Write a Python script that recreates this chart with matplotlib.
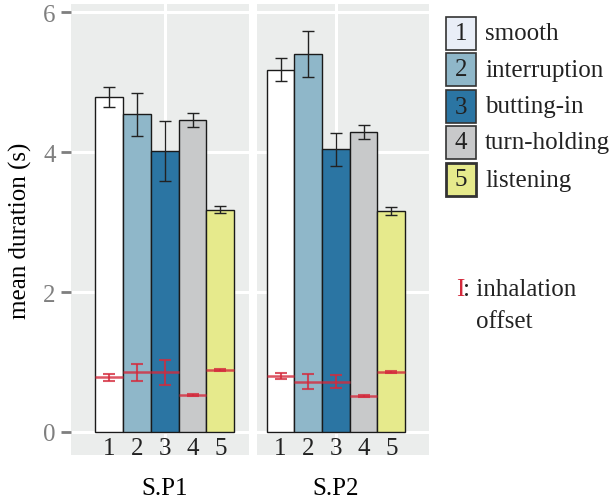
import numpy as np
import matplotlib
matplotlib.use("Agg")
import matplotlib.pyplot as plt
from matplotlib.patches import Rectangle
import matplotlib.transforms as mtransforms

# data
categories = ["1", "2", "3", "4", "5"]
turn_types = ["smooth", "interruption", "butting-in", "turn-holding", "listening"]
speakers = ["S.P1", "S.P2"]

sp1_mean = [4.79, 4.54, 4.02, 4.46, 3.18]
sp1_err = [0.15, 0.31, 0.43, 0.105, 0.045]
sp2_mean = [5.18, 5.40, 4.04, 4.29, 3.16]
sp2_err = [0.165, 0.33, 0.24, 0.095, 0.055]

sp1_inhal = [0.78, 0.85, 0.85, 0.53, 0.89]
sp1_inhal_err = [0.045, 0.12, 0.175, 0.015, 0.015]
sp2_inhal = [0.80, 0.72, 0.72, 0.515, 0.86]
sp2_inhal_err = [0.045, 0.11, 0.09, 0.015, 0.015]

bar_colors = ["#FFFFFF", "#8FB7C9", "#2B75A3", "#C8C9CA", "#E6EA8C"]
key_colors = ["#E9EEF7", "#8FB7C9", "#2B75A3", "#C8C9CA", "#E6EA8C"]
panel_bg = "#EBEDEC"
red = "#D42A3C"

plt.rcParams["font.family"] = ["Liberation Serif", "DejaVu Serif"]
plt.rcParams["font.size"] = 18

W, H = 610, 502
fig = plt.figure(figsize=(W / 100, H / 100), dpi=100)


def px_box(x0, x1, y0, y1):
    # pixel box (top-left origin) -> figure fraction rect
    return [x0 / W, (H - y1) / H, (x1 - x0) / W, (y1 - y0) / H]


panels = [
    dict(rect=px_box(71, 249, 5, 456), xlim=(-0.37, 6.03),
         mean=sp1_mean, err=sp1_err, inh=sp1_inhal, inh_err=sp1_inhal_err),
    dict(rect=px_box(257, 429, 5, 456), xlim=(0.15, 6.36),
         mean=sp2_mean, err=sp2_err, inh=sp2_inhal, inh_err=sp2_inhal_err),
]

x = np.arange(1, len(categories) + 1)

for i, p in enumerate(panels):
    ax = fig.add_axes(p["rect"])
    ax.set_facecolor(panel_bg)
    ax.set_xlim(*p["xlim"])
    ax.set_ylim(-0.33, 6.12)
    for s in ax.spines.values():
        s.set_visible(False)

    # white grid
    for yv in [0, 2, 4, 6]:
        ax.axhline(yv, color="white", lw=2.2, zorder=0.5)
    ax.axvline(3, color="white", lw=2.2, zorder=0.5)

    ax.bar(x, p["mean"], width=1.0, color=bar_colors, edgecolor="#1a1a1a",
           linewidth=1.0, zorder=2)
    ax.errorbar(x, p["mean"], yerr=p["err"], fmt="none", ecolor="#222222",
                elinewidth=1.0, capsize=4.5, capthick=1.0, zorder=3)

    # inhalation offset
    ax.hlines(p["inh"], x - 0.5, x + 0.5, color=red, lw=1.8, alpha=0.8, zorder=4)
    ax.errorbar(x, p["inh"], yerr=p["inh_err"], fmt="none", ecolor=red,
                elinewidth=1.5, capsize=4, capthick=1.5, alpha=0.8, zorder=4)

    ax.set_xticks(x)
    ax.set_xticklabels(categories)
    ax.tick_params(axis="x", length=0, pad=-13, labelsize=18, colors="#222222")

    if i == 0:
        ax.set_yticks([0, 2, 4, 6])
        ax.tick_params(axis="y", length=7, width=2, color="#7F7F7F",
                       labelcolor="#7F7F7F", labelsize=18, pad=4)
        ax.set_ylabel("mean duration (s)", fontsize=18, labelpad=8)
    else:
        ax.set_yticks([])

    trans = mtransforms.blended_transform_factory(ax.transData, ax.transAxes)
    ax.text(3, -0.073, speakers[i], transform=trans, ha="center", va="center",
            fontsize=18)

# legend drawn by hand
key_tops = [18, 54, 91, 127, 164]
for k, top in enumerate(key_tops):
    fx, fy, fw, fh = px_box(446, 476, top, top + 33)
    lw = 2.0 if k == 4 else 1.2
    fig.patches.append(Rectangle((fx, fy), fw, fh, transform=fig.transFigure,
                                 facecolor=key_colors[k], edgecolor="#333333",
                                 linewidth=lw))
    cy = 1 - (top + 16.5) / H
    fig.text(461 / W, cy, categories[k], ha="center", va="center", fontsize=18,
             color="#222222")
    fig.text(485 / W, cy, turn_types[k], ha="left", va="center", fontsize=18,
             color="#222222")

fig.text(456 / W, 1 - 290 / H, "I", color=red, ha="left", va="center", fontsize=18)
fig.text(463 / W, 1 - 290 / H, ": inhalation", ha="left", va="center", fontsize=18,
         color="#222222")
fig.text(476 / W, 1 - 322 / H, "offset", ha="left", va="center", fontsize=18,
         color="#222222")

fig.savefig("out.png", dpi=100)
